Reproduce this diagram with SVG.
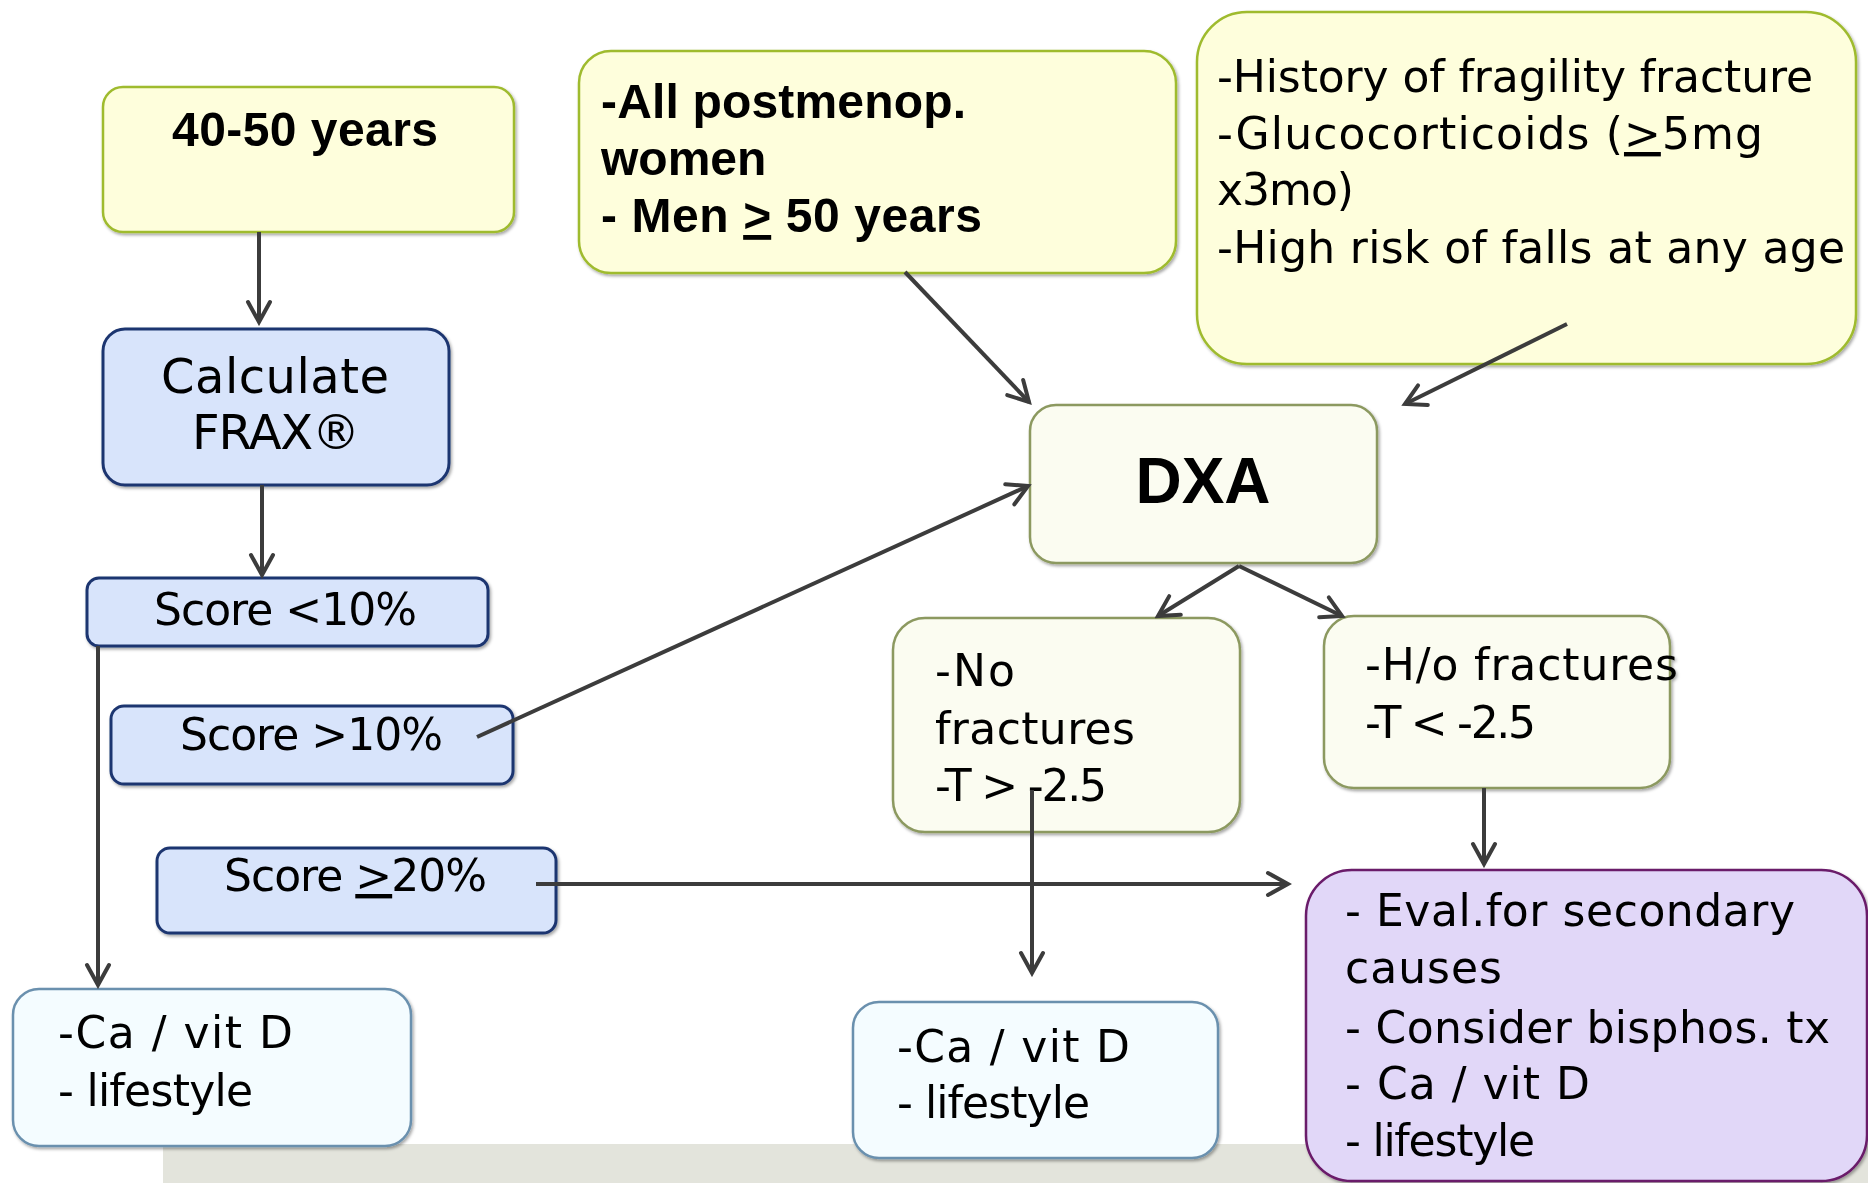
<svg xmlns="http://www.w3.org/2000/svg" width="1868" height="1183" viewBox="0 0 1868 1183">
<defs>
<style>
.t{font-family:"DejaVu Sans",sans-serif;font-size:44px;fill:#000}
.b{font-family:"Liberation Sans",Arial,sans-serif;font-weight:bold;font-size:48px;fill:#000}
.big{font-size:48px}
.dxa{font-size:64px}
.u{text-decoration:underline}
.yel{fill:#fefedc;stroke:#9fbb2e;stroke-width:2.5}
.pale{fill:#fbfcf1;stroke:#8c9960;stroke-width:2.5}
.blue{fill:#d8e4fb;stroke:#1d3670;stroke-width:3}
.cyan{fill:#f4fcff;stroke:#6a90ae;stroke-width:2.5}
.purp{fill:#e1d7f8;stroke:#6a1a6a;stroke-width:2.5}
.c{fill:none;stroke:#3c3c3c;stroke-width:4;marker-end:url(#ah)}
</style>
<marker id="ah" viewBox="-24 -14 28 28" refX="0" refY="0" markerWidth="28" markerHeight="28" markerUnits="userSpaceOnUse" orient="auto">
<path d="M-20,-11 L0,0 L-20,11" fill="none" stroke="#3c3c3c" stroke-width="4" stroke-linecap="round" stroke-linejoin="miter"/>
</marker>
<filter id="sh" x="-5%" y="-5%" width="110%" height="115%">
<feDropShadow dx="1.5" dy="2" stdDeviation="1.5" flood-color="#000" flood-opacity="0.35"/>
</filter>
</defs>
<rect x="0" y="0" width="1868" height="1183" fill="#fff"/>
<rect id="band" x="163" y="1144" width="1705" height="39" fill="#e3e4dc"/>

<g id="n-age4050" filter="url(#sh)">
<rect class="yel" x="103" y="87" width="411" height="145" rx="20"/>
<text class="b" x="305" y="146" text-anchor="middle" textLength="266">40-50 years</text>
</g>
<g id="n-frax" filter="url(#sh)">
<rect class="blue" x="103" y="329" width="346" height="156" rx="22"/>
<text class="t big" x="275" y="393" text-anchor="middle" textLength="228">Calculate</text>
<text class="t big" x="276" y="449" text-anchor="middle" textLength="168">FRAX®</text>
</g>
<g id="n-lt10" filter="url(#sh)">
<rect class="blue" x="87" y="578" width="401" height="68" rx="12"/>
<text class="t" x="154" y="625" textLength="263">Score &lt;10%</text>
</g>
<g id="n-gt10" filter="url(#sh)">
<rect class="blue" x="111" y="706" width="402" height="78" rx="13"/>
<text class="t" x="180" y="750" textLength="263">Score &gt;10%</text>
</g>
<g id="n-ge20" filter="url(#sh)">
<rect class="blue" x="157" y="848" width="399" height="85" rx="13"/>
<text class="t" x="224" y="891" textLength="263">Score <tspan class="u">&gt;</tspan>20%</text>
</g>
<g id="n-ca1" filter="url(#sh)">
<rect class="cyan" x="13" y="989" width="398" height="157" rx="26"/>
<text class="t" x="58" y="1048" textLength="235">-Ca / vit D</text>
<text class="t" x="58" y="1106" textLength="195">- lifestyle</text>
</g>
<g id="n-postmenop" filter="url(#sh)">
<rect class="yel" x="579" y="51" width="597" height="222" rx="32"/>
<text class="b" x="601" y="118" textLength="365">-All postmenop.</text>
<text class="b" x="601" y="175">women</text>
<text class="b" x="601" y="232" textLength="381">- Men <tspan class="u">&gt;</tspan> 50 years</text>
</g>
<g id="n-risk" filter="url(#sh)">
<rect class="yel" x="1197" y="12" width="659" height="352" rx="50"/>
<text class="t" x="1217" y="92" textLength="596">-History of fragility fracture</text>
<text class="t" x="1217" y="149" textLength="546">-Glucocorticoids (<tspan class="u">&gt;</tspan>5mg</text>
<text class="t" x="1217" y="205" textLength="137">x3mo)</text>
<text class="t" x="1217" y="263" textLength="628">-High risk of falls at any age</text>
</g>
<g id="n-dxa" filter="url(#sh)">
<rect class="pale" x="1030" y="405" width="347" height="158" rx="26"/>
<text class="b dxa" x="1203" y="503" text-anchor="middle">DXA</text>
</g>
<g id="n-nofx" filter="url(#sh)">
<rect class="pale" x="893" y="618" width="347" height="214" rx="32"/>
<text class="t" x="935" y="686" textLength="80">-No</text>
<text class="t" x="935" y="744" textLength="200">fractures</text>
<text class="t" x="935" y="801" textLength="172">-T &gt; -2.5</text>
</g>
<g id="n-hofx" filter="url(#sh)">
<rect class="pale" x="1324" y="616" width="346" height="172" rx="30"/>
<text class="t" x="1365" y="680" textLength="313">-H/o fractures</text>
<text class="t" x="1365" y="738" textLength="171">-T &lt; -2.5</text>
</g>
<g id="n-ca2" filter="url(#sh)">
<rect class="cyan" x="853" y="1002" width="365" height="156" rx="26"/>
<text class="t" x="897" y="1062" textLength="233">-Ca / vit D</text>
<text class="t" x="897" y="1118" textLength="193">- lifestyle</text>
</g>
<g id="n-treat" filter="url(#sh)">
<rect class="purp" x="1306" y="870" width="561" height="311" rx="46"/>
<text class="t" x="1345" y="926" textLength="450">- Eval.for secondary</text>
<text class="t" x="1345" y="983" textLength="157">causes</text>
<text class="t" x="1345" y="1043" textLength="485">- Consider bisphos. tx</text>
<text class="t" x="1345" y="1099" textLength="245">- Ca / vit D</text>
<text class="t" x="1345" y="1156" textLength="190">- lifestyle</text>
</g>

<g id="connectors">
<line class="c" x1="259" y1="232" x2="259" y2="322"/>
<line class="c" x1="262" y1="485" x2="262" y2="575"/>
<line class="c" x1="98" y1="646" x2="98" y2="985"/>
<line class="c" x1="477" y1="737" x2="1028" y2="486"/>
<line class="c" x1="905" y1="272" x2="1029" y2="402"/>
<line class="c" x1="1567" y1="324" x2="1405" y2="404"/>
<line class="c" x1="1239" y1="566" x2="1158" y2="616"/>
<line class="c" x1="1239" y1="566" x2="1342" y2="616"/>
<line class="c" x1="1032" y1="790" x2="1032" y2="973"/>
<line class="c" x1="536" y1="884" x2="1288" y2="884"/>
<line class="c" x1="1484" y1="788" x2="1484" y2="864"/>
</g>
</svg>
